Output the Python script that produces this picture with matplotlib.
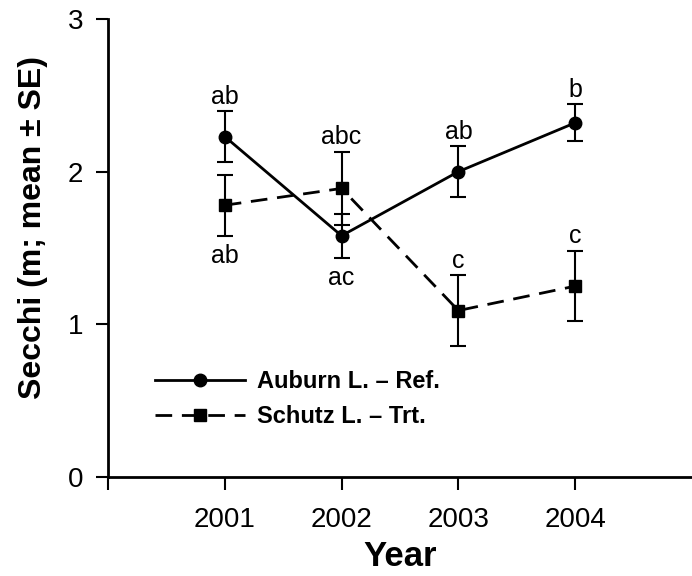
import matplotlib
matplotlib.use("Agg")
import matplotlib.pyplot as plt
from matplotlib.lines import Line2D

plt.rcParams['font.family'] = ['Liberation Sans', 'DejaVu Sans']

years = [2001, 2002, 2003, 2004]
auburn_mean = [2.23, 1.58, 2.00, 2.32]
auburn_se = [0.165, 0.145, 0.165, 0.12]
schutz_mean = [1.78, 1.89, 1.09, 1.25]
schutz_se = [0.20, 0.24, 0.23, 0.23]
auburn_letters = ['ab', 'ac', 'ab', 'b']
auburn_side = ['above', 'below', 'above', 'above']
schutz_letters = ['ab', 'abc', 'c', 'c']
schutz_side = ['below', 'above', 'above', 'above']

dash = (0, (6, 3.5))

fig = plt.figure(figsize=(6.92, 5.76), dpi=100)
ax = fig.add_axes([0.156, 0.172, 0.844, 0.795])

ax.errorbar(years, auburn_mean, yerr=auburn_se, color='black', lw=2, marker='o', ms=9,
            capsize=6, elinewidth=1.5, capthick=1.5)
ax.errorbar(years, schutz_mean, yerr=schutz_se, color='black', lw=2, ls=dash,
            marker='s', ms=8, capsize=6, elinewidth=1.5, capthick=1.5)

def put_letters(means, ses, letters, sides):
	for x, m, s, t, side in zip(years, means, ses, letters, sides):
		if side == 'above':
			ax.annotate(t, (x, m + s), xytext=(0, 2), textcoords='offset points',
			            ha='center', va='bottom', fontsize=18)
		else:
			ax.annotate(t, (x, m - s), xytext=(0, -6), textcoords='offset points',
			            ha='center', va='top', fontsize=18)

put_letters(auburn_mean, auburn_se, auburn_letters, auburn_side)
put_letters(schutz_mean, schutz_se, schutz_letters, schutz_side)

ax.set_xlim(2000, 2005)
ax.set_ylim(0, 3)
ax.set_xticks([2000] + years)
ax.set_xticklabels([''] + [str(y) for y in years])
ax.set_yticks([0, 1, 2, 3])
ax.spines['top'].set_visible(False)
ax.spines['right'].set_visible(False)
ax.spines['left'].set_linewidth(2)
ax.spines['bottom'].set_linewidth(2)
ax.tick_params(length=9, width=1.5, labelsize=20)
ax.tick_params(axis='x', pad=13)
ax.tick_params(axis='y', pad=9)

ax.set_xlabel('Year', fontsize=25, fontweight='bold', labelpad=5)
ax.set_ylabel('Secchi (m; mean ± SE)', fontsize=23, fontweight='bold')
ax.yaxis.set_label_coords(-0.103, 0.545)

handles = [Line2D([], [], color='black', lw=2, marker='o', ms=9),
           Line2D([], [], color='black', lw=2, ls=dash, marker='s', ms=8)]
ax.legend(handles, ['Auburn L. – Ref.', 'Schutz L. – Trt.'], loc='upper left',
          bbox_to_anchor=(0.045, 0.28), frameon=False,
          prop={'size': 17, 'weight': 'bold'}, handlelength=3.8, handletextpad=0.5,
          labelspacing=0.5)

fig.savefig('out.png', dpi=100)
